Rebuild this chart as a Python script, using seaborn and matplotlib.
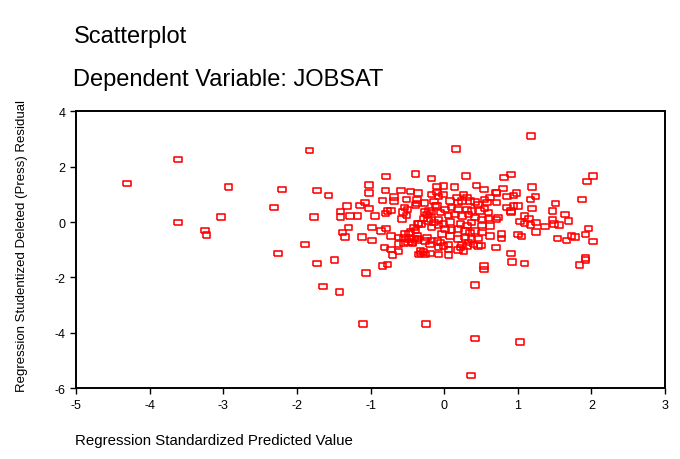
import numpy as np
import pandas as pd
import matplotlib
matplotlib.use("Agg")
import matplotlib.pyplot as plt
import seaborn as sns

# values (predicted value, deleted residual)
pred = [
    -4.31, -3.62, -3.62, -2.93, -3.03, -3.25, -3.23, -2.31, -2.20, -2.26,
    -1.83, -0.79, -0.39, -1.02, -1.02, -1.73, -1.57, -0.80, -0.59, -0.46,
    -0.36, -0.68, -0.51, -0.84, -0.68, -0.37, -0.37, -1.08, -1.14, -1.32,
    -1.02, -0.54, -0.50, -0.77, -0.72, -0.80, -0.56, -1.41, -1.41, -1.28,
    -1.18, -0.94, -1.77, -0.51, -0.57, -1.30, -0.98, -0.79, -0.86, -1.38,
    -1.35, -1.12, -0.72, -0.53, -0.46, -0.39, -0.36,
    -0.98, -1.89, -1.73, -1.49, -1.06, -1.65, -1.42, -1.10, -0.81, -0.84,
    -0.77, -0.72, -0.70, -0.62, -0.62, -0.55, -0.49, -0.43, -0.62, -0.48,
    -0.37, -0.41, -0.35,
    -0.17, -0.17, -0.10, -0.27, -0.14, -0.12, -0.08, -0.39, -0.26, -0.21,
    -0.23, -0.18, -0.28, -0.35, -0.31, -0.22, -0.18, -0.14, -0.17, -0.08,
    -0.08, -0.55, -0.48, -0.41, -0.35, -0.23, -0.17, -0.09, -0.32, -0.26,
    -0.19,
    0.30, 0.81, 0.91, -0.10, -0.01, 0.14, 0.44, 0.54, 0.70, 0.80,
    -0.02, 0.26, 0.17, 0.31, 0.35, 0.55, 0.62, 0.71, 0.85, 0.94,
    0.08, 0.19, 0.24, 0.42, 0.46, 0.58, 0.71, 0.85, 0.91, -0.10,
    0.01, 0.10, 0.19, 0.31, 0.37, 0.49, 0.55, 0.60, 0.73, 0.71,
    -0.05, 0.06, 0.15, 0.24, 0.33, 0.42, 0.51, 0.60, -0.01, 0.08,
    0.22, 0.31, 0.37, 0.51, 0.62, 0.01, 0.10, 0.19, 0.28, 0.35,
    0.42, 0.51, 0.62, 0.78, 0.78, -0.03, 0.08, 0.19, 0.28, 0.37,
    0.46, -0.05, 0.06, 0.24, 0.33, 0.46, 0.70, -0.08, 0.06, 0.19,
    0.91, -0.08, 0.06, 0.26,
    0.54, 0.54, 0.42, -0.25, 0.42, 1.03, 0.36, 0.92, 1.09, 0.50,
    -0.44, -0.37, -0.26, -0.19, -0.01, 0.22, 0.31, 0.40, -0.32, -0.28,
    2.02, 1.94, 1.19, 1.24, 1.17, 0.98, 1.00, 0.94, 0.91, 1.19,
    1.51, 1.47, 1.64, 1.69, 1.87, 1.09, 1.15, 1.03, 1.09, 1.17,
    1.25, 1.37, 1.47, 1.49, 1.56, 1.96, 1.92, 2.02, 1.00, 1.05,
    1.25, 1.54, 1.66, 1.73, 1.78, 1.92,
    1.18, 0.16, 1.92, 1.84,
]
resid = [
    1.39, 2.25, -0.02, 1.26, 0.18, -0.30, -0.47, 0.52, 1.18, -1.13,
    2.59, 1.64, 1.73, 1.34, 1.05, 1.13, 0.95, 1.13, 1.13, 1.10,
    1.05, 0.90, 0.82, 0.78, 0.76, 0.79, 0.66, 0.70, 0.60, 0.57,
    0.48, 0.52, 0.45, 0.40, 0.41, 0.31, 0.36, 0.38, 0.18, 0.22,
    0.22, 0.22, 0.18, 0.23, 0.11, -0.20, -0.20, -0.24, -0.32, -0.38,
    -0.54, -0.54, -0.51, -0.44, -0.36, -0.30, -0.08,
    -0.67, -0.81, -1.49, -1.37, -1.84, -2.32, -2.53, -3.69, -0.92, -1.59,
    -1.54, -1.00, -1.19, -1.07, -0.80, -0.77, -0.72, -0.77, -0.56, -0.41,
    -0.51, -0.20, -1.17,
    1.57, 0.99, 1.06, 0.69, 0.74, 0.60, 0.92, 0.61, 0.36, 0.40,
    0.28, 0.34, 0.12, -0.06, -0.08, 0.04, 0.10, -0.02, -0.20, 0.10,
    -0.12, -0.56, -0.62, -0.60, -0.60, -0.56, -0.66, -0.69, -1.14, -1.17,
    -1.14,
    1.66, 1.60, 1.72, 1.28, 1.30, 1.26, 1.31, 1.18, 1.06, 1.21,
    1.00, 1.00, 0.88, 0.88, 0.76, 0.82, 0.88, 1.04, 0.92, 0.96,
    0.76, 0.70, 0.76, 0.72, 0.64, 0.70, 0.70, 0.52, 0.40, 0.58,
    0.46, 0.52, 0.46, 0.46, 0.40, 0.40, 0.48, 0.34, 0.16, 0.10,
    0.34, 0.24, 0.28, 0.22, 0.28, 0.16, 0.10, 0.12, -0.08, 0.00,
    -0.08, -0.12, -0.02, -0.12, -0.14, -0.26, -0.29, -0.26, -0.32, -0.38,
    -0.32, -0.38, -0.51, -0.44, -0.60, -0.44, -0.51, -0.62, -0.56, -0.62,
    -0.60, -0.74, -0.81, -0.81, -0.74, -0.87, -0.92, -0.92, -0.99, -1.01,
    -1.14, -1.17, -1.20, -1.05,
    -1.59, -1.71, -2.27, -3.69, -4.21, -4.34, -5.55, -1.45, -1.50, -0.84,
    -0.74, -0.65, -0.69, -0.81, -0.87, -0.92, -0.87, -0.81, -1.05, -1.08,
    1.66, 1.46, 1.26, 0.92, 0.82, 1.04, 0.58, 0.58, 0.34, 0.48,
    0.66, 0.40, 0.28, 0.03, 0.82, 0.22, 0.13, 0.01, -0.06, -0.11,
    -0.02, -0.17, 0.07, -0.08, -0.11, -0.24, -0.45, -0.71, -0.45, -0.52,
    -0.36, -0.59, -0.67, -0.51, -0.54, -1.30,
    3.10, 2.64, -1.37, -1.55,
]

df = pd.DataFrame({"pred": pred, "resid": resid})

sns.set_style("white")
plt.rcParams["font.family"] = ["Liberation Sans", "DejaVu Sans"]
plt.rcParams["axes.unicode_minus"] = False
plt.rcParams["text.color"] = "black"
plt.rcParams["xtick.color"] = "black"
plt.rcParams["ytick.color"] = "black"

fig = plt.figure(figsize=(6.8, 4.6), dpi=100)
ax = fig.add_axes([0.112, 0.154, 0.866, 0.602])

# open rectangles like the SPSS markers
box = [(-1, -0.72), (1, -0.72), (1, 0.72), (-1, 0.72), (-1, -0.72)]
sns.scatterplot(data=df, x="pred", y="resid", ax=ax, marker=box, s=30,
                facecolor="none", edgecolor="#ff0000", linewidth=1.15)

ax.set_xlim(-5, 3)
ax.set_ylim(-6, 4)
ax.set_xticks(range(-5, 4))
ax.set_yticks(range(-6, 5, 2))
ax.tick_params(axis="both", direction="out", length=4, width=1, labelsize=9,
               labelcolor="black", bottom=True, left=True)
for s in ax.spines.values():
    s.set_color("black")
    s.set_linewidth(1.4)

ax.set_xlabel("")
ax.set_ylabel("")
fig.text(0.11, 0.041, "Regression Standardized Predicted Value", fontsize=10.8,
         ha="left", va="center")
fig.text(0.032, 0.465, "Regression Studentized Deleted (Press) Residual",
         rotation=90, ha="center", va="center", fontsize=9.5)

fig.text(0.108, 0.92, "Scatterplot", fontsize=17, ha="left", va="center")
fig.text(0.108, 0.826, "Dependent Variable: JOBSAT", fontsize=17, ha="left", va="center")

fig.savefig("out.png", dpi=100)
